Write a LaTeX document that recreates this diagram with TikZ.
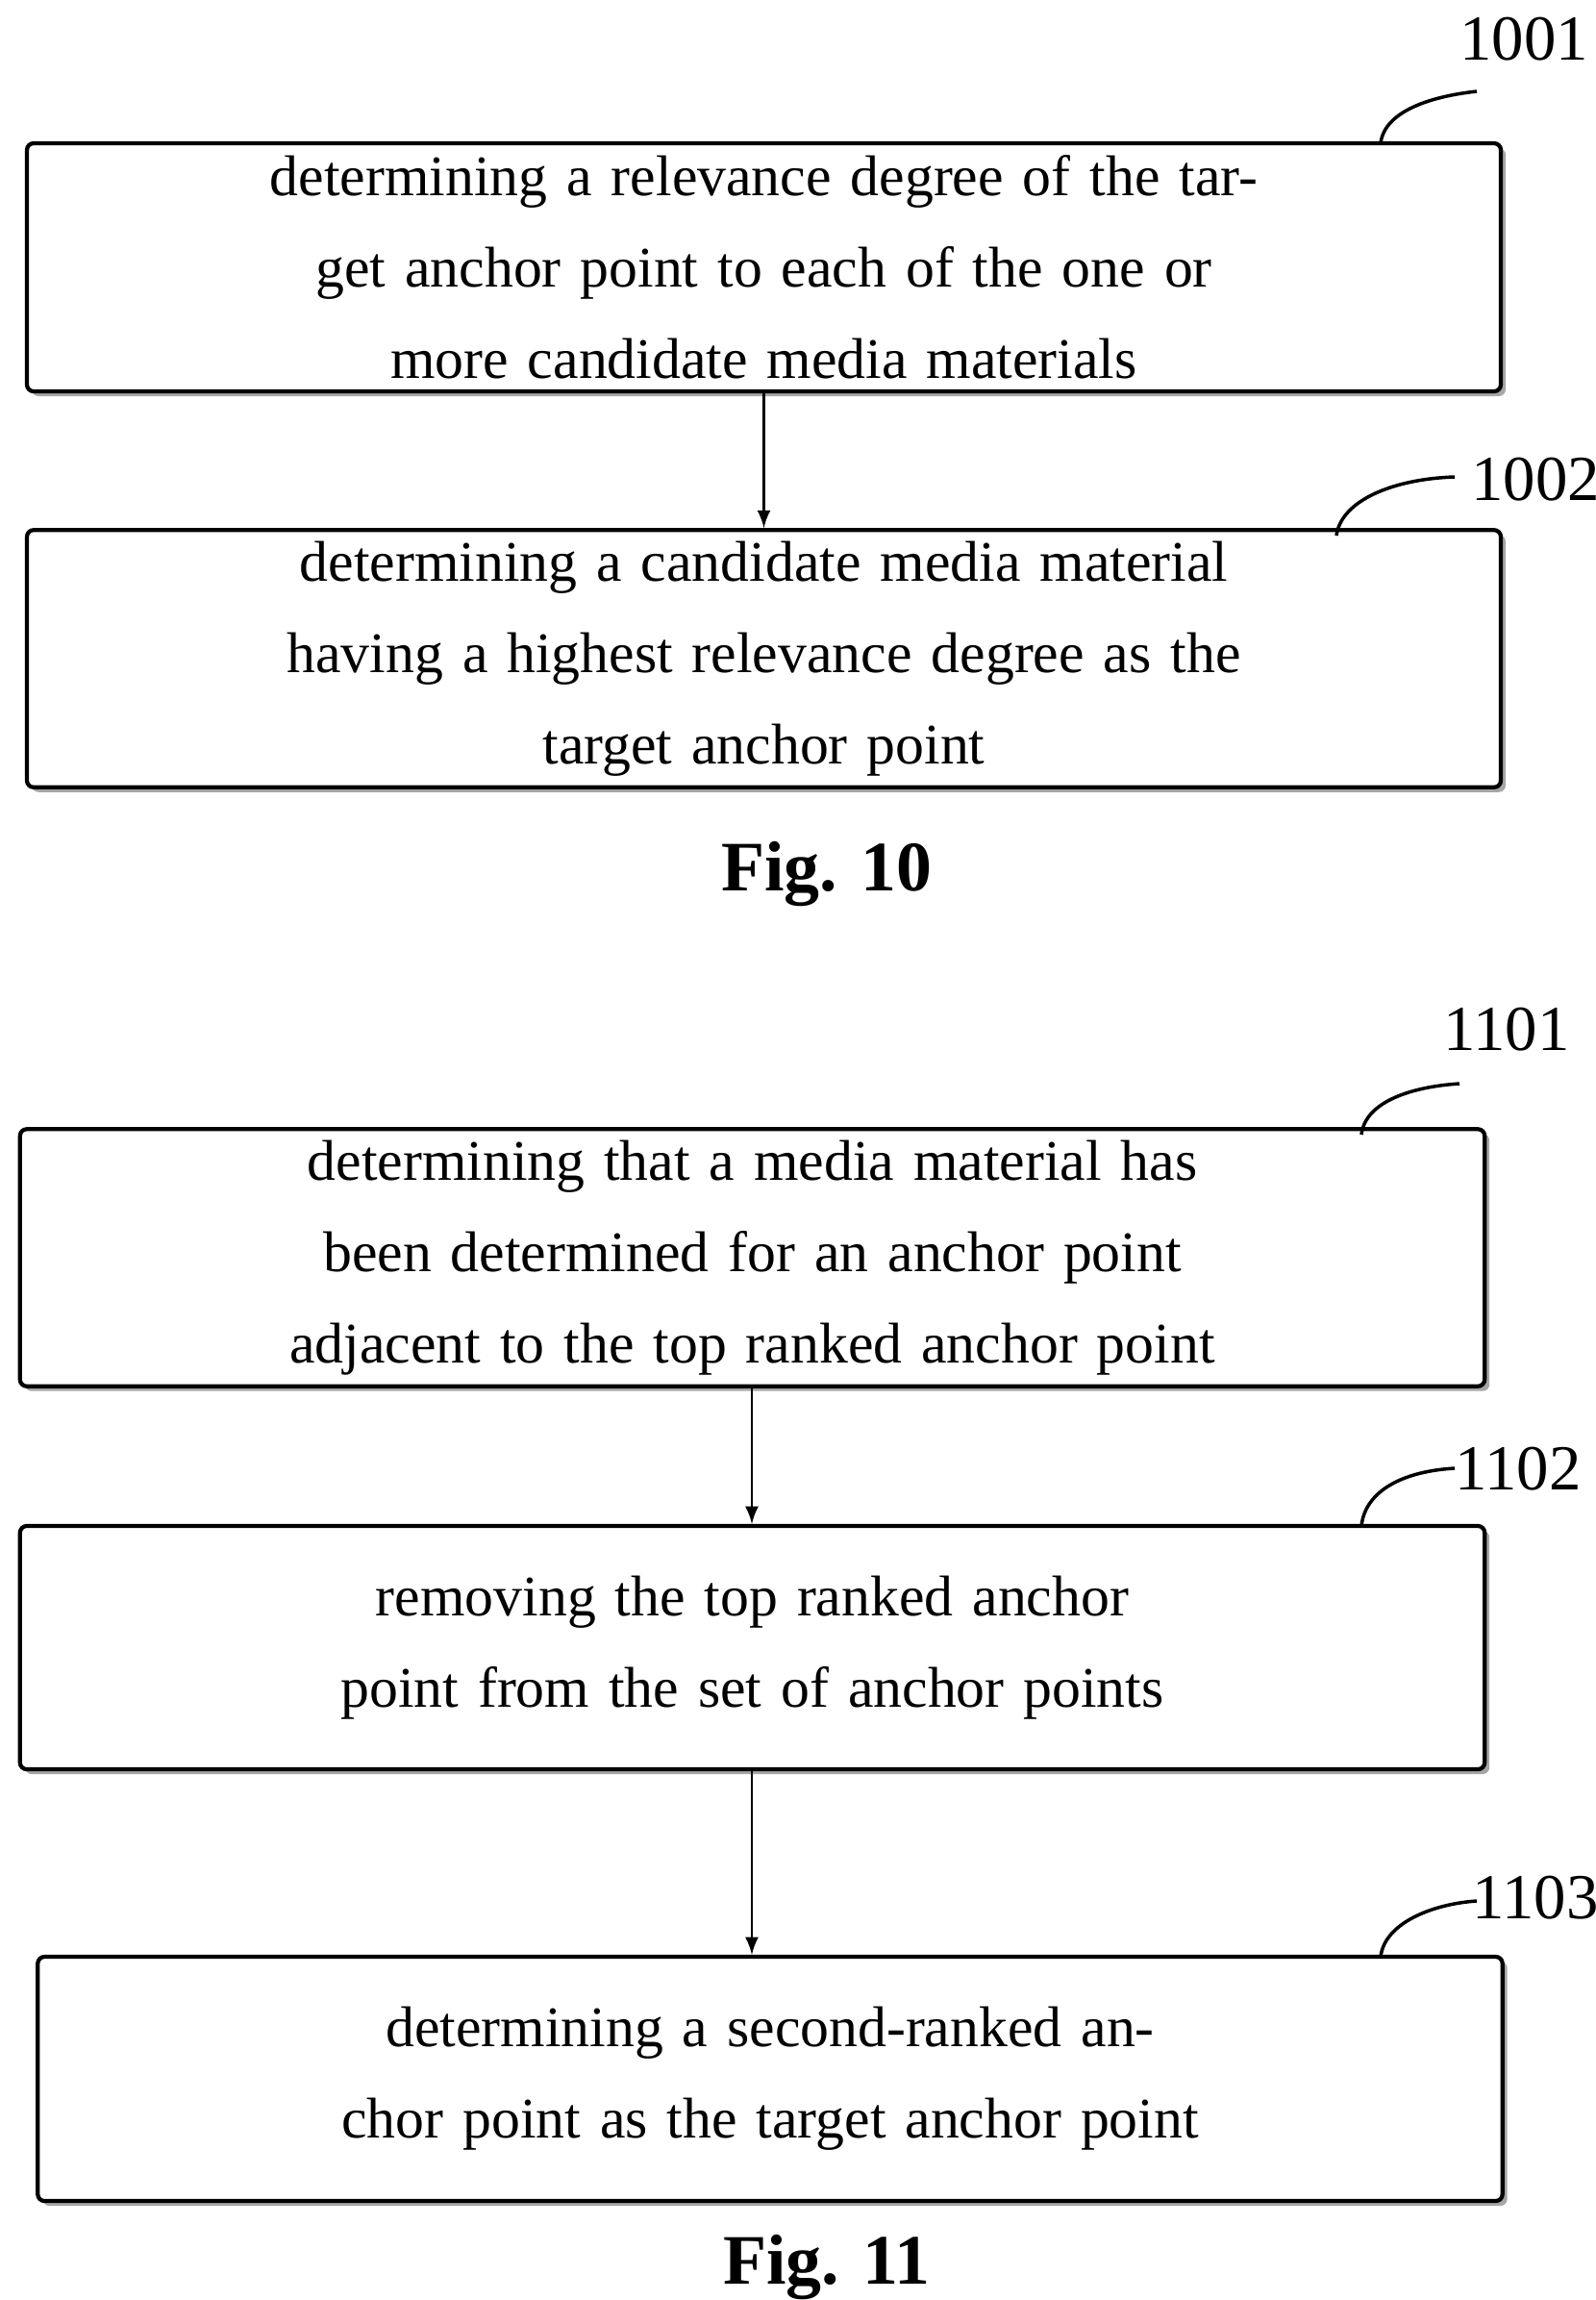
\documentclass[tikz,border=0pt]{standalone}
\usepackage{fontspec}
\setmainfont{Liberation Serif}
\usetikzlibrary{positioning, shadows}
\tikzset{
  stepbox/.style={draw, line width=1.2pt, rounded corners=2pt, fill=white, align=center,
    font=\fontsize{17}{27}\selectfont, text width=15cm,
    drop shadow={shadow xshift=0.05cm, shadow yshift=-0.05cm, fill=gray!70, opacity=1}},
  tag/.style={font=\fontsize{19}{22}\selectfont},
  flow/.style={->, line width=0.8pt, >=latex},
  lead/.style={line width=1pt}
}
\begin{document}
\begin{tikzpicture}
  \useasboundingbox (0,0) rectangle (16.59,-23.92);
  % Fig. 10
  \node[stepbox, minimum width=15.33cm, minimum height=2.58cm] (s1001) at (7.945,-2.78) {determining a relevance degree of the target anchor point to each of the one or\\ more candidate media materials};
  \node[stepbox, minimum width=15.33cm, minimum height=2.56cm] (s1002) at (7.945,-6.85) {determining a candidate media material having a highest relevance degree as the\\ target anchor point};
  \draw[flow] (s1001) -- (s1002);
  \node[tag] (t1001) at (15.85,-0.41) {1001};
  \node[tag] (t1002) at (15.97,-4.99) {1002};
  \draw[lead] (14.36,-1.49) .. controls (14.4,-1.15) and (14.9,-1.0) .. (15.36,-0.95);
  \draw[lead] (13.90,-5.57) .. controls (13.95,-5.2) and (14.5,-4.98) .. (15.13,-4.96);
  \node[font=\bfseries\fontsize{21}{24}\selectfont] (fig10) at (8.6,-9.09) {Fig. 10};
  % Fig. 11
  \node[stepbox, minimum width=15.19cm, minimum height=2.56cm] (s1101) at (7.825,-13.08) {determining that a media material has been determined for an anchor point\\ adjacent to the top ranked anchor point};
  \node[stepbox, minimum width=15.19cm, minimum height=2.53cm] (s1102) at (7.825,-17.135) {removing the top ranked anchor point from the set of anchor points};
  \node[stepbox, minimum width=15.22cm, minimum height=2.54cm] (s1103) at (8.01,-21.62) {determining a second-ranked anchor point as the target anchor point};
  \draw[flow] (s1101.south -| 7.82,0) -- (s1102.north -| 7.82,0);
  \draw[flow] (s1102.south -| 7.82,0) -- (s1103.north -| 7.82,0);
  \node[tag] (t1101) at (15.67,-10.71) {1101};
  \node[tag] (t1102) at (15.79,-15.28) {1102};
  \node[tag] (t1103) at (15.97,-19.74) {1103};
  \draw[lead] (14.16,-11.80) .. controls (14.2,-11.45) and (14.7,-11.3) .. (15.18,-11.27);
  \draw[lead] (14.16,-15.87) .. controls (14.2,-15.5) and (14.6,-15.3) .. (15.13,-15.27);
  \draw[lead] (14.36,-20.35) .. controls (14.4,-20.0) and (14.9,-19.8) .. (15.36,-19.77);
  \node[font=\bfseries\fontsize{21}{24}\selectfont] (fig11) at (8.6,-23.58) {Fig. 11};
\end{tikzpicture}
\end{document}
